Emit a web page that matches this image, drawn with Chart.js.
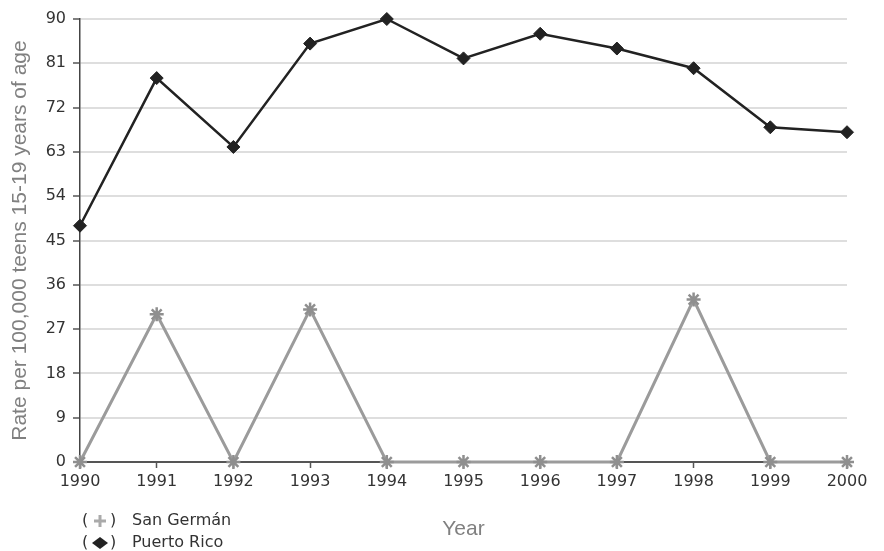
<!DOCTYPE html>
<html>
<head>
<meta charset="utf-8">
<script src="https://cdn.jsdelivr.net/npm/chart.js@4/dist/chart.umd.min.js"></script>
<style>
	html, body { margin: 0; padding: 0; background: #fff; }
	#wrap { width: 884px; height: 551px; }
</style>
</head>
<body>
<div id="wrap"><canvas id="chart" width="884" height="551"></canvas></div>
<script>
	'use strict';

	var years = ['1990', '1991', '1992', '1993', '1994', '1995', '1996', '1997', '1998', '1999', '2000'];
	var sanGerman = [0, 30, 0, 31, 0, 0, 0, 0, 33, 0, 0];
	var puertoRico = [48, 78, 64, 85, 90, 82, 87, 84, 80, 68, 67];
	var yTicks = [0, 9, 18, 27, 36, 45, 54, 63, 72, 81, 90];

	var tickFont = { family: '"DejaVu Sans", Verdana, sans-serif', size: 16 };
	var titleFont = { family: '"Liberation Sans", Arial, sans-serif', size: 21 };

	// Legend drawn under the axis, "( marker ) label" style
	var parenLegend = {
		id: 'parenLegend',
		afterDraw: function (chart) {
			var ctx = chart.ctx,
				x = 82,
				y = 521;

			ctx.save();
			ctx.font = '16px "DejaVu Sans", Verdana, sans-serif';
			ctx.textBaseline = 'middle';

			chart.data.datasets.forEach(function (ds, i) {
				var rowY = y + i * 22,
					cx = x + 18;

				ctx.fillStyle = '#333';
				ctx.fillText('(', x, rowY);
				ctx.fillText(')', x + 28, rowY);
				ctx.fillText(ds.label, x + 50, rowY);

				if (ds.pointStyle === 'rectRot') {
					ctx.fillStyle = ds.pointBackgroundColor;
					ctx.beginPath();
					ctx.moveTo(cx, rowY - 6);
					ctx.lineTo(cx + 8, rowY);
					ctx.lineTo(cx, rowY + 6);
					ctx.lineTo(cx - 8, rowY);
					ctx.closePath();
					ctx.fill();
				} else {
					ctx.strokeStyle = '#aaa';
					ctx.lineWidth = 3;
					ctx.beginPath();
					ctx.moveTo(cx - 6, rowY);
					ctx.lineTo(cx + 6, rowY);
					ctx.moveTo(cx, rowY - 6);
					ctx.lineTo(cx, rowY + 6);
					ctx.stroke();
				}
			});
			ctx.restore();
		}
	};

	var chart = new Chart(document.getElementById('chart'), {
		type: 'line',
		data: {
			labels: years,
			datasets: [{
				label: 'San Germán',
				data: sanGerman,
				borderColor: '#9b9b9b',
				backgroundColor: '#9b9b9b',
				borderWidth: 3,
				pointStyle: 'star',
				pointRadius: 7,
				pointBorderWidth: 2.5,
				pointBorderColor: '#8f8f8f',
				pointBackgroundColor: '#8f8f8f',
				tension: 0,
				clip: false
			}, {
				label: 'Puerto Rico',
				data: puertoRico,
				borderColor: '#222',
				backgroundColor: '#222',
				borderWidth: 2.5,
				pointStyle: 'rectRot',
				pointRadius: 6.5,
				pointBorderWidth: 1,
				pointBorderColor: '#222',
				pointBackgroundColor: '#222',
				tension: 0,
				clip: false
			}]
		},
		options: {
			responsive: false,
			animation: false,
			layout: {
				padding: { top: 19, right: 37, bottom: 8, left: 4 }
			},
			plugins: {
				legend: { display: false },
				tooltip: { enabled: false }
			},
			scales: {
				x: {
					offset: false,
					border: { color: '#555', width: 2 },
					grid: {
						drawOnChartArea: false,
						tickLength: 6,
						tickColor: '#555',
						tickWidth: 1.5
					},
					ticks: {
						color: '#333',
						font: tickFont,
						padding: 4,
						maxRotation: 0
					},
					title: {
						display: true,
						text: 'Year',
						color: '#808080',
						font: titleFont,
						padding: { top: 20, bottom: 1 }
					},
					afterFit: function (scale) {
						scale.height = 81;
					}
				},
				y: {
					min: 0,
					max: 90,
					afterBuildTicks: function (scale) {
						scale.ticks = yTicks.map(function (v) { return { value: v }; });
					},
					border: { color: '#444', width: 1.5 },
					grid: {
						color: '#dedede',
						lineWidth: 2,
						tickLength: 7,
						tickColor: '#555',
						tickWidth: 1.5
					},
					ticks: {
						color: '#333',
						font: tickFont,
						padding: 7
					},
					title: {
						display: true,
						text: 'Rate per 100,000 teens 15-19 years of age',
						color: '#808080',
						font: titleFont,
						padding: { top: 4, bottom: 4 }
					},
					afterFit: function (scale) {
						scale.width = 76;
					}
				}
			}
		},
		plugins: [parenLegend]
	});
</script>
</body>
</html>
